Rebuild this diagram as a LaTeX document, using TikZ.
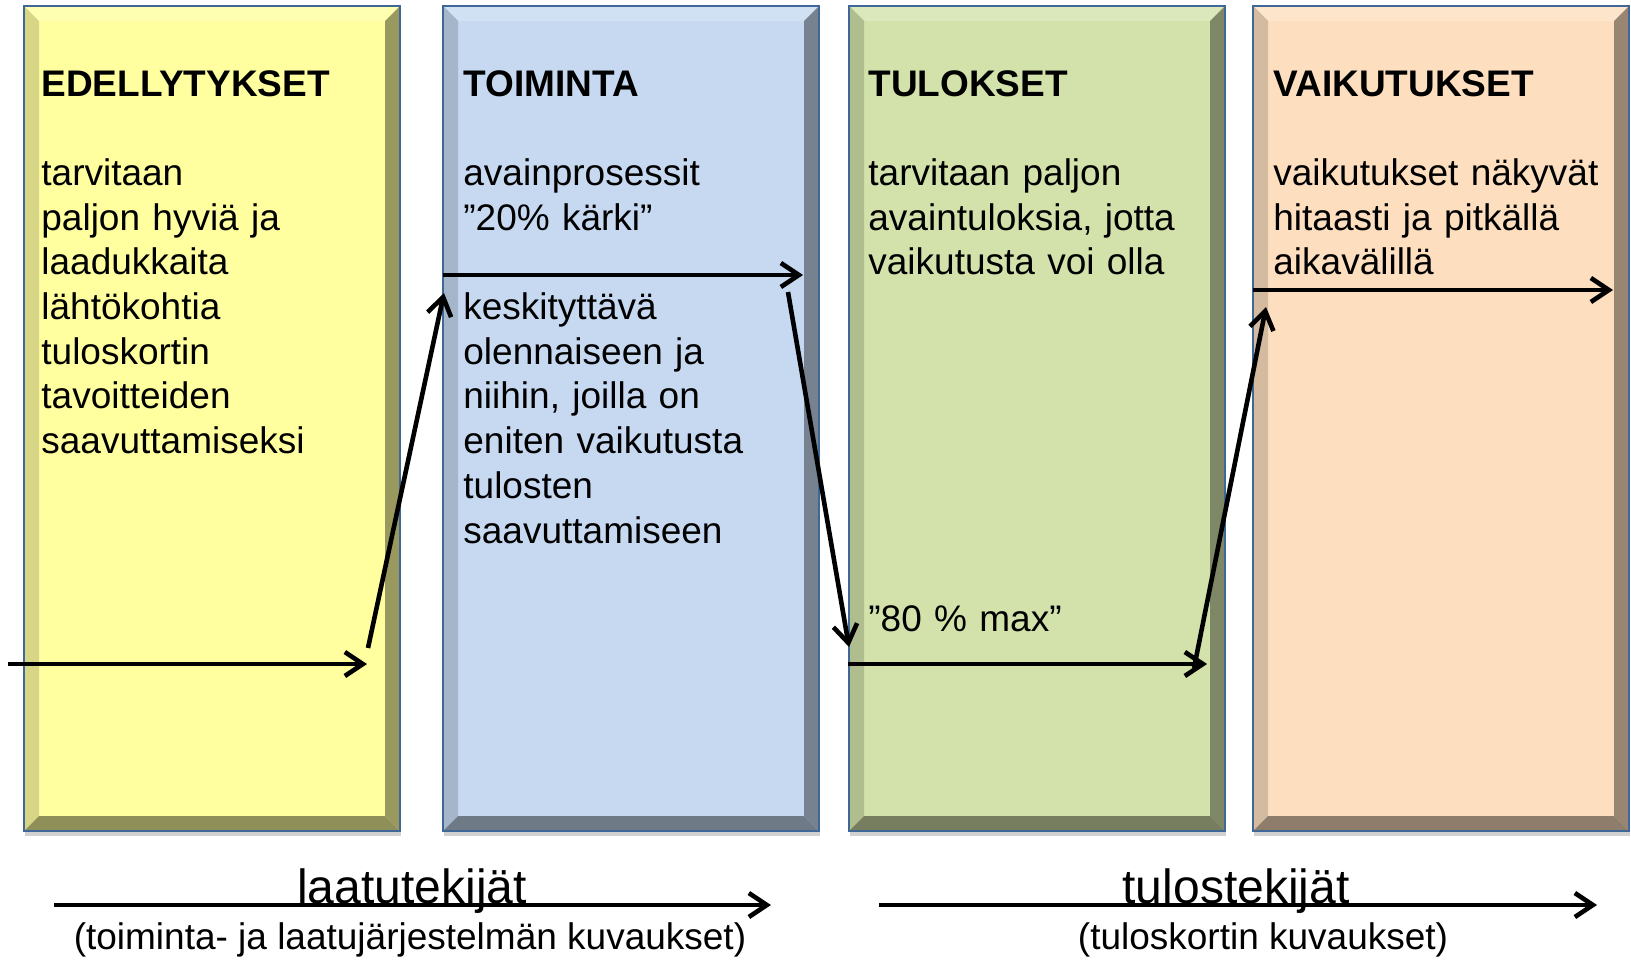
\documentclass[tikz,border=0pt]{standalone}
\usepackage{fontspec}
\setmainfont{Liberation Sans}
\usetikzlibrary{arrows.meta,shadows,positioning}

\definecolor{edgeblue}{HTML}{3F6797}
\definecolor{yellowface}{HTML}{FFFF9F}
\definecolor{blueface}{HTML}{C6D9F1}
\definecolor{greenface}{HTML}{D2E2AA}
\definecolor{orangeface}{HTML}{FDDFBF}

\tikzset{
>={Straight Barb[length=9pt,width=12pt]},
  panel/.style={
    rectangle,
    anchor=north west,
    inner sep=0pt,
    minimum width=188pt,
    minimum height=412.5pt,
    fill=#1,
    draw=edgeblue, line width=1pt,
    drop shadow={shadow xshift=.5pt, shadow yshift=-2.5pt, opacity=.18, fill=black},
    path picture={
      \coordinate (nw) at (path picture bounding box.north west);
      \coordinate (ne) at (path picture bounding box.north east);
      \coordinate (sw) at (path picture bounding box.south west);
      \coordinate (se) at (path picture bounding box.south east);
      \fill[#1!80!white] (nw) -- (ne) -- ++(-7.5pt,-7.5pt) -- ([shift={(7.5pt,-7.5pt)}]nw) -- cycle;
      \fill[#1!84!black] (nw) -- ++(7.5pt,-7.5pt) -- ([shift={(7.5pt,7.5pt)}]sw) -- (sw) -- cycle;
      \fill[#1!60!black] (ne) -- ++(-7.5pt,-7.5pt) -- ([shift={(-7.5pt,7.5pt)}]se) -- (se) -- cycle;
      \fill[#1!56!black] (sw) -- ++(7.5pt,7.5pt) -- ([shift={(-7.5pt,7.5pt)}]se) -- (se) -- cycle;
    }
  },
  body/.style={
    anchor=base west,
    inner sep=0pt,
    text width=172pt,
    align=left,
    font=\fontsize{18.5pt}{22.35pt}\selectfont},
  caption/.style={anchor=base, inner sep=0pt, font=\fontsize{24pt}{28pt}\selectfont},
  note/.style={anchor=base, inner sep=0pt, font=\fontsize{18.5pt}{22pt}\selectfont},
  flow/.style={draw, line width=2.3pt, ->}
}

\begin{document}
\begin{tikzpicture}[x=0.5pt, y=-0.5pt]
  \useasboundingbox (0,0) rectangle (1631,959);

  \node[panel=yellowface] (edel) at (23,5) {};
  \node[panel=blueface] (toim) at (442,5) {};
  \node[panel=greenface] (tulo) at (848,5) {};
  \node[panel=orangeface] (vaik) at (1252,5) {};

  \node[body] (edel-text) at (41,96) {\textbf{EDELLYTYKSET}\\[22.35pt]tarvitaan\\paljon hyviä ja\\laadukkaita\\lähtökohtia\\tuloskortin\\tavoitteiden\\saavuttamiseksi};
  \node[body] (toim-text) at (463,96) {\textbf{TOIMINTA}\\[22.35pt]avainprosessit\\”20\% kärki”\\[22.35pt]keskityttävä\\olennaiseen ja\\niihin, joilla on\\eniten vaikutusta\\tulosten\\saavuttamiseen};
  \node[body] (tulo-text) at (868,96) {\textbf{TULOKSET}\\[22.35pt]tarvitaan paljon\\avaintuloksia, jotta\\vaikutusta voi olla};
  \node[body] (tulo-max) at (868,631) {”80 \% max”};
  \node[body] (vaik-text) at (1273,96) {\textbf{VAIKUTUKSET}\\[22.35pt]vaikutukset näkyvät\\hitaasti ja pitkällä\\aikavälillä};

  \coordinate (start) at (8,664);
  \coordinate (edel-out) at (367,664);
  \coordinate (edel-up) at (368,648);
  \coordinate (toim-in) at (444,293);
  \coordinate (toim-left) at (443,275);
  \coordinate (toim-right) at (803,275);
  \coordinate (toim-down) at (788,292);
  \coordinate (tulo-in) at (849,647);
  \coordinate (tulo-left) at (848,664);
  \coordinate (tulo-right) at (1207,664);
  \coordinate (tulo-up) at (1194,668);
  \coordinate (vaik-in) at (1266,307);
  \coordinate (vaik-left) at (1253,290);
  \coordinate (vaik-right) at (1613,290);

  \draw[flow] (start) -- (edel-out);
  \draw[flow] (edel-up) -- (toim-in);
  \draw[flow] (toim-left) -- (toim-right);
  \draw[flow] (toim-down) -- (tulo-in);
  \draw[flow] (tulo-left) -- (tulo-right);
  \draw[flow] (tulo-up) -- (vaik-in);
  \draw[flow] (vaik-left) -- (vaik-right);

  \coordinate (laatu-a) at (54,905);
  \coordinate (laatu-b) at (771,905);
  \coordinate (tulos-a) at (879,905);
  \coordinate (tulos-b) at (1597,905);
  \draw[flow] (laatu-a) -- (laatu-b);
  \draw[flow] (tulos-a) -- (tulos-b);

  \node[caption] (laatu) at (412,903) {laatutekijät};
  \node[note] (laatu-note) at (410,949) {(toiminta- ja laatujärjestelmän kuvaukset)};
  \node[caption] (tulos) at (1236,903) {tulostekijät};
  \node[note] (tulos-note) at (1263,949) {(tuloskortin kuvaukset)};
\end{tikzpicture}
\end{document}
